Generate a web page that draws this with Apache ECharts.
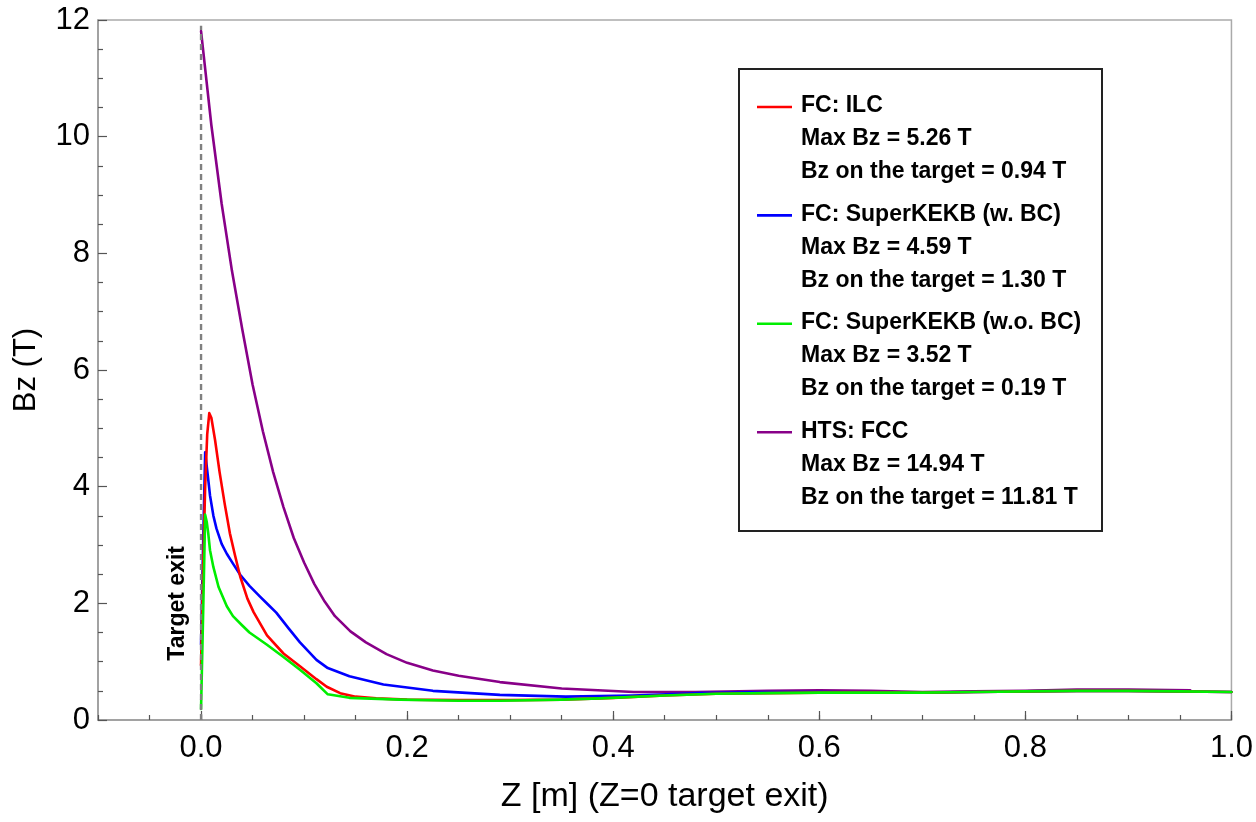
<!DOCTYPE html>
<html>
<head>
<meta charset="utf-8">
<script src="https://cdn.jsdelivr.net/npm/echarts@6/dist/echarts.min.js"></script>
<style>
html,body{margin:0;padding:0;background:#fff;}
#chart{width:1256px;height:822px;}
</style>
</head>
<body>
<div id="chart"></div>
<script>
// ---------- DATA ----------
const seriesNames = ['FC: ILC', 'FC: SuperKEKB (w. BC)', 'FC: SuperKEKB (w.o. BC)', 'HTS: FCC'];
const maxBz = ['5.26', '4.59', '3.52', '14.94'];
const targetBz = ['0.94', '1.30', '0.19', '11.81'];

const zIlc = [0, 0.002, 0.004, 0.006, 0.008, 0.010, 0.0136, 0.018, 0.023, 0.028, 0.033, 0.038, 0.045, 0.051, 0.064, 0.080, 0.096, 0.112, 0.122, 0.135, 0.150, 0.170, 0.200, 0.250, 0.300, 0.350, 0.400, 0.450, 0.500, 0.550, 0.600, 0.650, 0.700, 0.750, 0.800, 0.850, 0.900, 0.950, 1.000];
const bIlc = [0.94, 2.60, 4.00, 4.90, 5.26, 5.18, 4.80, 4.25, 3.70, 3.20, 2.82, 2.46, 2.08, 1.85, 1.45, 1.14, 0.92, 0.70, 0.57, 0.46, 0.40, 0.37, 0.35, 0.34, 0.34, 0.35, 0.38, 0.42, 0.45, 0.46, 0.47, 0.47, 0.47, 0.48, 0.49, 0.50, 0.50, 0.49, 0.48];

const zSkbBc = [0, 0.002, 0.004, 0.0065, 0.0087, 0.012, 0.015, 0.020, 0.025, 0.031, 0.038, 0.047, 0.057, 0.065, 0.073, 0.085, 0.096, 0.112, 0.123, 0.144, 0.177, 0.225, 0.290, 0.354, 0.419, 0.484, 0.550, 0.600, 0.650, 0.700, 0.750, 0.800, 0.850, 0.900, 0.950, 1.000];
const bSkbBc = [1.30, 3.00, 4.59, 4.20, 3.85, 3.50, 3.28, 3.02, 2.85, 2.68, 2.49, 2.30, 2.12, 1.98, 1.84, 1.57, 1.33, 1.03, 0.89, 0.75, 0.61, 0.50, 0.43, 0.40, 0.42, 0.46, 0.48, 0.48, 0.47, 0.47, 0.48, 0.49, 0.50, 0.50, 0.49, 0.48];

const zSkbNoBc = [0, 0.002, 0.004, 0.0055, 0.007, 0.0087, 0.012, 0.017, 0.025, 0.031, 0.040, 0.047, 0.064, 0.080, 0.096, 0.112, 0.123, 0.144, 0.193, 0.250, 0.290, 0.350, 0.387, 0.450, 0.500, 0.550, 0.600, 0.650, 0.700, 0.750, 0.800, 0.850, 0.900, 0.950, 1.000];
const bSkbNoBc = [0.19, 1.80, 3.52, 3.40, 3.20, 2.91, 2.62, 2.28, 1.95, 1.78, 1.62, 1.50, 1.29, 1.08, 0.86, 0.63, 0.44, 0.38, 0.35, 0.33, 0.33, 0.35, 0.37, 0.42, 0.45, 0.46, 0.47, 0.47, 0.47, 0.48, 0.49, 0.50, 0.50, 0.49, 0.48];

const zHts = [0, 0.01, 0.02, 0.03, 0.04, 0.05, 0.06, 0.07, 0.08, 0.09, 0.10, 0.11, 0.12, 0.13, 0.145, 0.16, 0.18, 0.20, 0.225, 0.25, 0.29, 0.35, 0.42, 0.48, 0.55, 0.60, 0.65, 0.70, 0.75, 0.80, 0.85, 0.90, 0.96];
const bHts = [11.81, 10.20, 8.85, 7.70, 6.70, 5.75, 4.95, 4.25, 3.65, 3.12, 2.70, 2.33, 2.03, 1.78, 1.52, 1.33, 1.13, 0.98, 0.85, 0.76, 0.65, 0.54, 0.48, 0.48, 0.50, 0.51, 0.50, 0.48, 0.49, 0.50, 0.52, 0.52, 0.51];

const zTargetExit = [0, 0];
const bTargetExit = [0, 11.9];

const xMajorTicks = [0.0, 0.2, 0.4, 0.6, 0.8, 1.0];
const xTitle = 'Z [m] (Z=0 target exit)';
const yTitle = 'Bz (T)';
const targetLabel = 'Target exit';

// ---------- STYLE ----------
const colors = ['#ff0000', '#0000ff', '#00ee00', '#880088'];
const FONT = 'Liberation Sans, Arial, sans-serif';

function pairs(zs, bs) { return zs.map((z, i) => [z, bs[i]]); }
const curveData = [pairs(zIlc, bIlc), pairs(zSkbBc, bSkbBc), pairs(zSkbNoBc, bSkbNoBc), pairs(zHts, bHts)];

const chart = echarts.init(document.getElementById('chart'), null, {renderer: 'canvas'});

const zOrder = [4, 3, 5, 2];
const series = curveData.map((d, i) => ({
  name: seriesNames[i],
  type: 'line',
  data: d,
  showSymbol: false,
  symbol: 'none',
  smooth: false,
  lineStyle: {color: colors[i], width: 2.6, join: 'round', cap: 'round'},
  itemStyle: {color: colors[i]},
  z: zOrder[i]
}));
series.push({
  name: 'targetExit',
  type: 'line',
  data: pairs(zTargetExit, bTargetExit),
  showSymbol: false,
  symbol: 'none',
  lineStyle: {color: '#808080', width: 2.4, type: [6, 4]},
  silent: true,
  z: 6
});

// legend built from the arrays
const legendGraphics = [{
  type: 'rect',
  shape: {x: 739, y: 69, width: 363, height: 462},
  style: {fill: '#fff', stroke: '#222', lineWidth: 2},
  z: 10
}];
const lineGap = 33, groupGap = 108.4, y0 = 106;
seriesNames.forEach((nm, i) => {
  const gy = y0 + i * groupGap;
  legendGraphics.push({
    type: 'line',
    shape: {x1: 757, y1: gy + 1, x2: 792, y2: gy + 1},
    style: {stroke: colors[i], lineWidth: 2.6},
    z: 11
  });
  const lines = [nm, 'Max Bz = ' + maxBz[i] + ' T', 'Bz on the target = ' + targetBz[i] + ' T'];
  lines.forEach((t, k) => {
    legendGraphics.push({
      type: 'text',
      x: 801, y: gy + k * lineGap,
      style: {text: t, font: 'bold 23px ' + FONT, fill: '#000', textAlign: 'left', textVerticalAlign: 'middle'},
      z: 11
    });
  });
});

const option = {
  animation: false,
  backgroundColor: '#fff',
  grid: {left: 98, right: 23, top: 20, bottom: 102, show: true, borderColor: '#aaa', borderWidth: 1.5, backgroundColor: 'transparent'},
  xAxis: [{
    type: 'value', min: -0.1, max: 1.0, interval: 0.05,
    name: xTitle, nameLocation: 'middle', nameGap: 60,
    nameTextStyle: {fontFamily: FONT, fontSize: 34, color: '#000'},
    axisLine: {show: true, onZero: false, lineStyle: {color: '#999', width: 1.5}},
    axisTick: {show: true, inside: true, length: 5, lineStyle: {color: '#555', width: 1.2}},
    axisLabel: {show: false},
    splitLine: {show: false}
  }, {
    type: 'value', position: 'bottom', min: -0.1, max: 1.0, interval: 0.05,
    axisLine: {show: false, onZero: false},
    axisTick: {show: true, inside: true, length: 9, customValues: xMajorTicks, lineStyle: {color: '#555', width: 1.2}},
    axisLabel: {show: true, customValues: xMajorTicks, margin: 13, formatter: v => v.toFixed(1), fontFamily: FONT, fontSize: 31, color: '#000'},
    splitLine: {show: false}
  }],
  yAxis: {
    type: 'value', min: 0, max: 12, interval: 2,
    name: yTitle, nameLocation: 'middle', nameGap: 56, nameRotate: 90,
    nameTextStyle: {fontFamily: FONT, fontSize: 31, color: '#000'},
    axisLine: {show: true, onZero: false, lineStyle: {color: '#999', width: 1.5}},
    axisTick: {show: true, inside: true, length: 9, lineStyle: {color: '#555', width: 1.2}},
    minorTick: {show: true, splitNumber: 4, length: 5, lineStyle: {color: '#555', width: 1.2}},
    axisLabel: {margin: 8, fontFamily: FONT, fontSize: 31, color: '#000'},
    splitLine: {show: false}
  },
  series: series,
  graphic: legendGraphics
};
chart.setOption(option);

// "Target exit" label placed next to the dashed line via the axis scales
const p = chart.convertToPixel({xAxisIndex: 0, yAxisIndex: 0}, [0, 2.0]);
chart.setOption({
  graphic: legendGraphics.concat([{
    type: 'text',
    x: p[0] - 23, y: p[1],
    rotation: Math.PI / 2,
    style: {text: targetLabel, font: 'bold 23px ' + FONT, fill: '#000', textAlign: 'center', textVerticalAlign: 'middle'},
    z: 12
  }])
});
</script>
</body>
</html>
